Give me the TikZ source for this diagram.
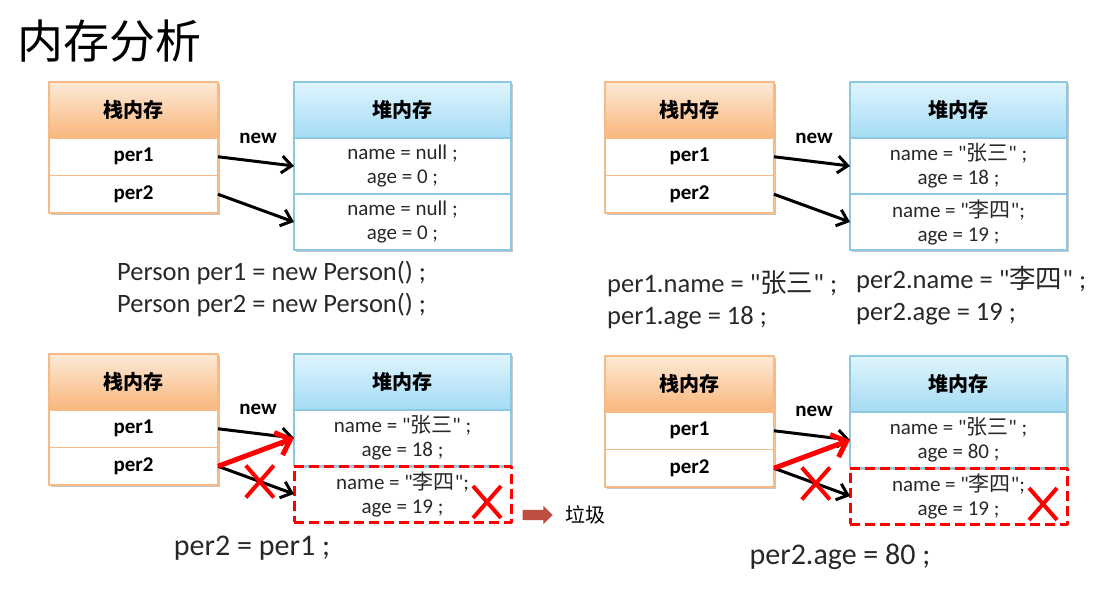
\documentclass[tikz,border=0pt]{standalone}
\usepackage{fontspec}
\setmainfont{Carlito}[Ligatures=TeXOff]
\newfontfamily\cjk{Noto Sans CJK SC}
\usepackage{tikz}
\usetikzlibrary{positioning,arrows.meta,shapes.misc,shapes.arrows,shadows}
\definecolor{stackline}{RGB}{246,186,134}
\definecolor{stacktop}{RGB}{253,234,214}
\definecolor{stackbot}{RGB}{249,182,124}
\definecolor{heapline}{RGB}{140,200,226}
\definecolor{heaptop}{RGB}{224,245,253}
\definecolor{heapbot}{RGB}{164,219,244}
\definecolor{gcred}{RGB}{190,78,66}
\definecolor{inktext}{RGB}{40,40,40}
\tikzset{
  boxshadow/.style={drop shadow={shadow xshift=2pt, shadow yshift=-2pt, opacity=.22, fill=black}},
  stackhead/.style={rectangle, draw=stackline, line width=1.5pt, top color=stacktop, bottom color=stackbot, minimum width=169pt, minimum height=56pt, inner sep=0pt, outer sep=0pt, boxshadow, font=\cjk\bfseries\fontsize{20}{24}\selectfont},
  stackcell/.style={rectangle, draw=stackline, line width=1.5pt, fill=white, minimum width=169pt, minimum height=37.5pt, inner sep=0pt, outer sep=0pt, boxshadow, font=\bfseries\fontsize{21}{24}\selectfont},
  heaphead/.style={rectangle, draw=heapline, line width=1.5pt, top color=heaptop, bottom color=heapbot, minimum width=217pt, minimum height=56pt, inner sep=0pt, outer sep=0pt, boxshadow, font=\cjk\bfseries\fontsize{20}{24}\selectfont},
  heapcell/.style={rectangle, draw=heapline, line width=1.5pt, fill=white, minimum width=217pt, minimum height=56pt, inner sep=0pt, outer sep=0pt, boxshadow, align=center, text=inktext, font=\fontsize{21}{24}\selectfont},
  garbagecell/.style={rectangle, draw=red, line width=3pt, dash pattern=on 10pt off 5pt, minimum width=217pt, minimum height=56pt, inner sep=0pt, outer sep=0pt, align=center, text=inktext, font=\fontsize{21}{24}\selectfont},
  newlabel/.style={font=\bfseries\fontsize{21}{24}\selectfont},
  ref/.style={line width=3pt, -{Straight Barb[length=10pt, width=17pt]}},
  newref/.style={draw=red, line width=5pt, -{Straight Barb[length=13pt, width=24pt]}},
  xmark/.style={cross out, draw=red, line width=4pt, minimum width=24pt, minimum height=28pt, inner sep=0pt},
  gcarrow/.style={single arrow, fill=gcred, draw=none, minimum height=30pt, inner xsep=0pt, inner ysep=5pt, single arrow head extend=4pt},
  code/.style={inner sep=0pt, text=inktext, align=left, font=\fontsize{26.5}{32}\selectfont},
  bigcode/.style={inner sep=0pt, text=inktext, font=\fontsize{30}{34}\selectfont},
  title/.style={inner sep=0pt, font=\cjk\fontsize{46}{50}\selectfont}
}
\begin{document}
\begin{tikzpicture}[x=1pt, y=-1pt, line join=round]
  \useasboundingbox (0,0) rectangle (1114,608);
  \node[title, anchor=west] (title) at (17,41) {内存分析};

  % Person per1 = new Person()
  \node[stackhead] (s1) at (133.5,110) {栈内存};
  \node[stackcell, below=0pt of s1] (s1a) {per1};
  \node[stackcell, below=0pt of s1a] (s1b) {per2};
  \node[heaphead] (h1) at (402.5,110) {堆内存};
  \node[heapcell, below=0pt of h1] (h1a) {name = null ;\\age = 0 ;};
  \node[heapcell, below=0pt of h1a] (h1b) {name = null ;\\age = 0 ;};
  \node[newlabel] (n1) at (258,138) {new};
  \draw[ref] (s1a.east) -- (h1a.west);
  \draw[ref] (s1b.east) -- (h1b.west);
  \node[code, anchor=west] (c1) at (117,289) {Person per1 = new Person() ;\\Person per2 = new Person() ;};

  % assigning the fields
  \node[stackhead] (s2) at (689.5,110) {栈内存};
  \node[stackcell, below=0pt of s2] (s2a) {per1};
  \node[stackcell, below=0pt of s2a] (s2b) {per2};
  \node[heaphead] (h2) at (958.5,110) {堆内存};
  \node[heapcell, below=0pt of h2] (h2a) {name = "{\cjk 张三}" ;\\age = 18 ;};
  \node[heapcell, below=0pt of h2a] (h2b) {name = "{\cjk 李四}";\\age = 19 ;};
  \node[newlabel] (n2) at (814,138) {new};
  \draw[ref] (s2a.east) -- (h2a.west);
  \draw[ref] (s2b.east) -- (h2b.west);
  \node[code, anchor=west] (c2) at (607,300) {per1.name = "{\cjk 张三}" ;\\per1.age = 18 ;};
  \node[code, anchor=west] (c3) at (856,296) {per2.name = "{\cjk 李四}" ;\\per2.age = 19 ;};

  % per2 = per1
  \node[stackhead] (s3) at (133.5,382) {栈内存};
  \node[stackcell, below=0pt of s3] (s3a) {per1};
  \node[stackcell, below=0pt of s3a] (s3b) {per2};
  \node[heaphead] (h3) at (402.5,382) {堆内存};
  \node[heapcell, below=0pt of h3] (h3a) {name = "{\cjk 张三}" ;\\age = 18 ;};
  \node[garbagecell, below=0pt of h3a] (h3b) {name = "{\cjk 李四}";\\age = 19 ;};
  \node[newlabel] (n3) at (258,409) {new};
  \draw[ref] (s3a.east) -- (h3a.west);
  \draw[ref] (s3b.east) -- node[xmark, pos=.55] (x3a) {} (h3b.west);
  \draw[newref] (s3b.east) -- (h3a.west);
  \node[xmark] (x3b) at (487,502) {};
  \node[gcarrow] (gc3) at (535,515) {};
  \node[right=12pt of gc3, font=\cjk\fontsize{20}{24}\selectfont, inner sep=0pt] (g3) {垃圾};
  \node[bigcode] (c4) at (252,548) {per2 = per1 ;};

  % per2.age = 80
  \node[stackhead] (s4) at (689.5,384) {栈内存};
  \node[stackcell, below=0pt of s4] (s4a) {per1};
  \node[stackcell, below=0pt of s4a] (s4b) {per2};
  \node[heaphead] (h4) at (958.5,384) {堆内存};
  \node[heapcell, below=0pt of h4] (h4a) {name = "{\cjk 张三}" ;\\age = 80 ;};
  \node[garbagecell, below=0pt of h4a] (h4b) {name = "{\cjk 李四}";\\age = 19 ;};
  \node[newlabel] (n4) at (814,411) {new};
  \draw[ref] (s4a.east) -- (h4a.west);
  \draw[ref] (s4b.east) -- node[xmark, pos=.55] (x4a) {} (h4b.west);
  \draw[newref] (s4b.east) -- (h4a.west);
  \node[xmark] (x4b) at (1043,504) {};
  \node[bigcode] (c5) at (840,557) {per2.age = 80 ;};
\end{tikzpicture}
\end{document}
